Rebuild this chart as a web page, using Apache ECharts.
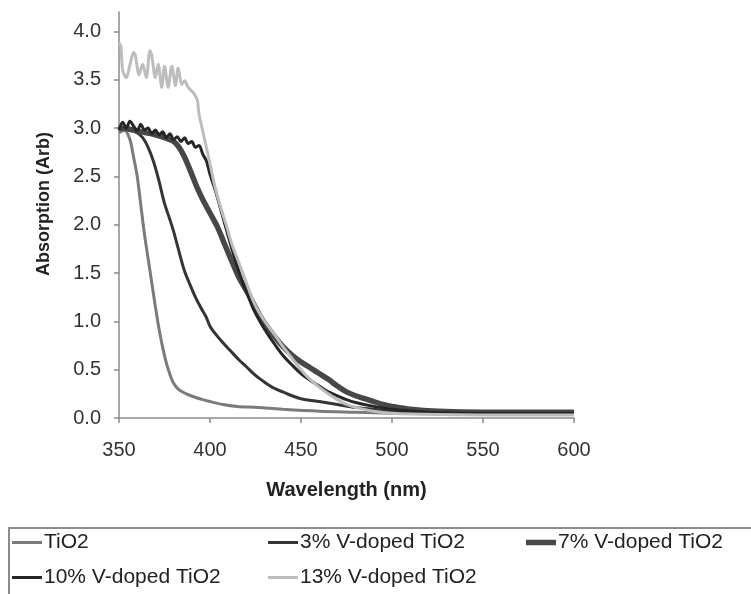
<!DOCTYPE html>
<html>
<head>
<meta charset="utf-8">
<script src="https://cdn.jsdelivr.net/npm/echarts@6/dist/echarts.min.js"></script>
<style>
  html, body { margin: 0; padding: 0; background: #fff; }
  #chart { width: 751px; height: 594px; }
</style>
</head>
<body>
<div id="chart"></div>
<script>
// UV-Vis absorption spectra, [wavelength (nm), absorption (arb)]
const seriesNames = ['TiO2', '3% V-doped TiO2', '7% V-doped TiO2', '10% V-doped TiO2', '13% V-doped TiO2'];

const tio2 = [
  [350, 2.95], [353, 2.98], [356, 2.88], [358, 2.7], [360, 2.5], [362, 2.2], [364, 1.9],
  [366, 1.65], [368, 1.4], [370, 1.15], [372, 0.92], [374, 0.73], [376, 0.57], [378, 0.45],
  [380, 0.36], [383, 0.29], [387, 0.25], [391, 0.22], [396, 0.19], [400, 0.17], [407, 0.14],
  [415, 0.12], [425, 0.11], [440, 0.09], [460, 0.07], [480, 0.06], [500, 0.05], [525, 0.045],
  [550, 0.04], [600, 0.04]
];

const v3 = [
  [350, 3.0], [355, 3.0], [360, 2.95], [363, 2.9], [366, 2.8], [369, 2.65], [372, 2.45],
  [375, 2.22], [378, 2.05], [380, 1.93], [383, 1.72], [386, 1.52], [389, 1.38], [392, 1.25],
  [395, 1.14], [398, 1.04], [400, 0.95], [403, 0.87], [407, 0.78], [411, 0.7], [416, 0.6],
  [420, 0.53], [425, 0.44], [430, 0.37], [435, 0.31], [440, 0.27], [445, 0.23], [450, 0.2],
  [460, 0.17], [470, 0.14], [480, 0.11], [490, 0.09], [500, 0.07], [525, 0.055], [550, 0.05],
  [600, 0.05]
];

const v7 = [
  [350, 3.0], [355, 2.99], [360, 2.97], [365, 2.95], [370, 2.93], [375, 2.9], [380, 2.86],
  [383, 2.8], [386, 2.7], [390, 2.52], [393, 2.38], [396, 2.26], [400, 2.12], [404, 1.98],
  [408, 1.8], [412, 1.62], [416, 1.45], [420, 1.32], [424, 1.18], [428, 1.04], [432, 0.93],
  [436, 0.83], [440, 0.74], [445, 0.65], [450, 0.58], [455, 0.52], [460, 0.46], [465, 0.4],
  [470, 0.33], [475, 0.27], [480, 0.23], [485, 0.2], [490, 0.17], [495, 0.14], [500, 0.12],
  [510, 0.09], [525, 0.07], [550, 0.06], [600, 0.06]
];

const v10 = [
  [350, 2.98], [352, 3.06], [354, 3.0], [356, 3.07], [358, 3.02], [360, 2.97], [362, 3.04],
  [364, 2.98], [366, 3.0], [368, 2.94], [370, 2.98], [372, 2.93], [374, 2.96], [376, 2.9],
  [378, 2.94], [380, 2.88], [382, 2.91], [384, 2.86], [386, 2.9], [388, 2.84], [390, 2.86],
  [392, 2.8], [394, 2.82], [396, 2.73], [398, 2.66], [400, 2.52], [403, 2.35], [406, 2.15],
  [409, 1.95], [412, 1.75], [415, 1.57], [418, 1.4], [421, 1.26], [424, 1.12], [428, 0.98],
  [432, 0.86], [436, 0.75], [440, 0.65], [445, 0.55], [450, 0.46], [455, 0.39], [460, 0.33],
  [465, 0.27], [470, 0.23], [475, 0.19], [480, 0.16], [490, 0.12], [500, 0.09], [520, 0.06],
  [550, 0.05], [600, 0.05]
];

const v13 = [
  [350, 3.88], [351, 3.85], [352, 3.6], [354, 3.52], [356, 3.65], [358, 3.78], [359, 3.75],
  [361, 3.55], [363, 3.66], [365, 3.52], [367, 3.8], [368, 3.75], [370, 3.52], [371.5, 3.66],
  [373.5, 3.42], [375, 3.64], [377, 3.42], [379, 3.64], [381, 3.44], [382.5, 3.62],
  [384.5, 3.45], [386, 3.49], [388, 3.42], [391, 3.36], [393, 3.29], [394, 3.14], [396, 2.97],
  [398, 2.8], [400, 2.63], [402, 2.45], [404, 2.3], [406, 2.17], [409, 1.99], [412, 1.8],
  [416, 1.6], [420, 1.4], [424, 1.2], [428, 1.06], [432, 0.95], [436, 0.85], [440, 0.74],
  [445, 0.62], [450, 0.5], [455, 0.4], [460, 0.32], [465, 0.25], [470, 0.19], [475, 0.14],
  [480, 0.11], [490, 0.07], [500, 0.05], [525, 0.035], [550, 0.03], [600, 0.03]
];

const xTicks = [350, 400, 450, 500, 550, 600];
const yTicks = [0, 0.5, 1.0, 1.5, 2.0, 2.5, 3.0, 3.5, 4.0];

const seriesData = [tio2, v3, v7, v10, v13];
const colors = ['#7b7b7b', '#353535', '#474747', '#262626', '#bdbdbd'];
const widths = [3, 3, 5.5, 3, 3];

const FONT = '"Liberation Sans", Arial, sans-serif';
const axisColor = '#8a8a8a';

// one legend block per entry so the boxed layout keeps its columns
const legendSlots = [
  { left: 12, top: 532 },
  { left: 268, top: 532 },
  { left: 526, top: 532 },
  { left: 12, top: 567 },
  { left: 268, top: 567 }
];

const chart = echarts.init(document.getElementById('chart'), null, { renderer: 'canvas' });

chart.setOption({
  backgroundColor: '#ffffff',
  animation: false,
  grid: { left: 119, right: 177, top: 12, bottom: 176, containLabel: false },
  xAxis: {
    type: 'value', min: 350, max: 600, interval: 50,
    name: 'Wavelength (nm)', nameLocation: 'middle', nameGap: 62,
    nameTextStyle: { fontFamily: FONT, fontWeight: 'bold', fontSize: 20, color: '#222' },
    axisLine: { show: true, lineStyle: { color: axisColor, width: 1.5 } },
    axisTick: { show: true, inside: false, length: 5, lineStyle: { color: axisColor, width: 1.5 }, customValues: xTicks },
    axisLabel: { fontFamily: FONT, fontSize: 20, color: '#333', margin: 22, customValues: xTicks },
    splitLine: { show: false }
  },
  yAxis: {
    type: 'value', min: 0, max: 4.2,
    name: 'Absorption (Arb)', nameLocation: 'middle', nameGap: 66,
    nameTextStyle: { fontFamily: FONT, fontWeight: 'bold', fontSize: 18, color: '#222', padding: [0, 0, 0, 22] },
    axisLine: { show: true, lineStyle: { color: axisColor, width: 1.5 } },
    axisTick: { show: true, inside: false, length: 5, lineStyle: { color: axisColor, width: 1.5 }, customValues: yTicks },
    axisLabel: { fontFamily: FONT, fontSize: 20, color: '#333', margin: 18, customValues: yTicks,
      formatter: v => v.toFixed(1) },
    splitLine: { show: false }
  },
  legend: legendSlots.map((s, i) => ({
    data: [seriesNames[i]],
    left: s.left, top: s.top, padding: 0, itemGap: 0,
    itemWidth: 30, itemHeight: widths[i], icon: 'rect',
    textStyle: { fontFamily: FONT, fontSize: 21, color: '#222', padding: [0, 0, 0, -3] }
  })),
  graphic: [{
    type: 'rect', left: 8, top: 527, z: -1,
    shape: { width: 760, height: 90 },
    style: { fill: '#fff', stroke: '#8c8c8c', lineWidth: 2 }
  }],
  series: seriesData.map((d, i) => ({
    name: seriesNames[i],
    type: 'line',
    data: d,
    showSymbol: false,
    symbol: 'none',
    smooth: 0.3,
    color: colors[i],
    lineStyle: { color: colors[i], width: widths[i] },
    z: 2 + i
  }))
});
</script>
</body>
</html>
